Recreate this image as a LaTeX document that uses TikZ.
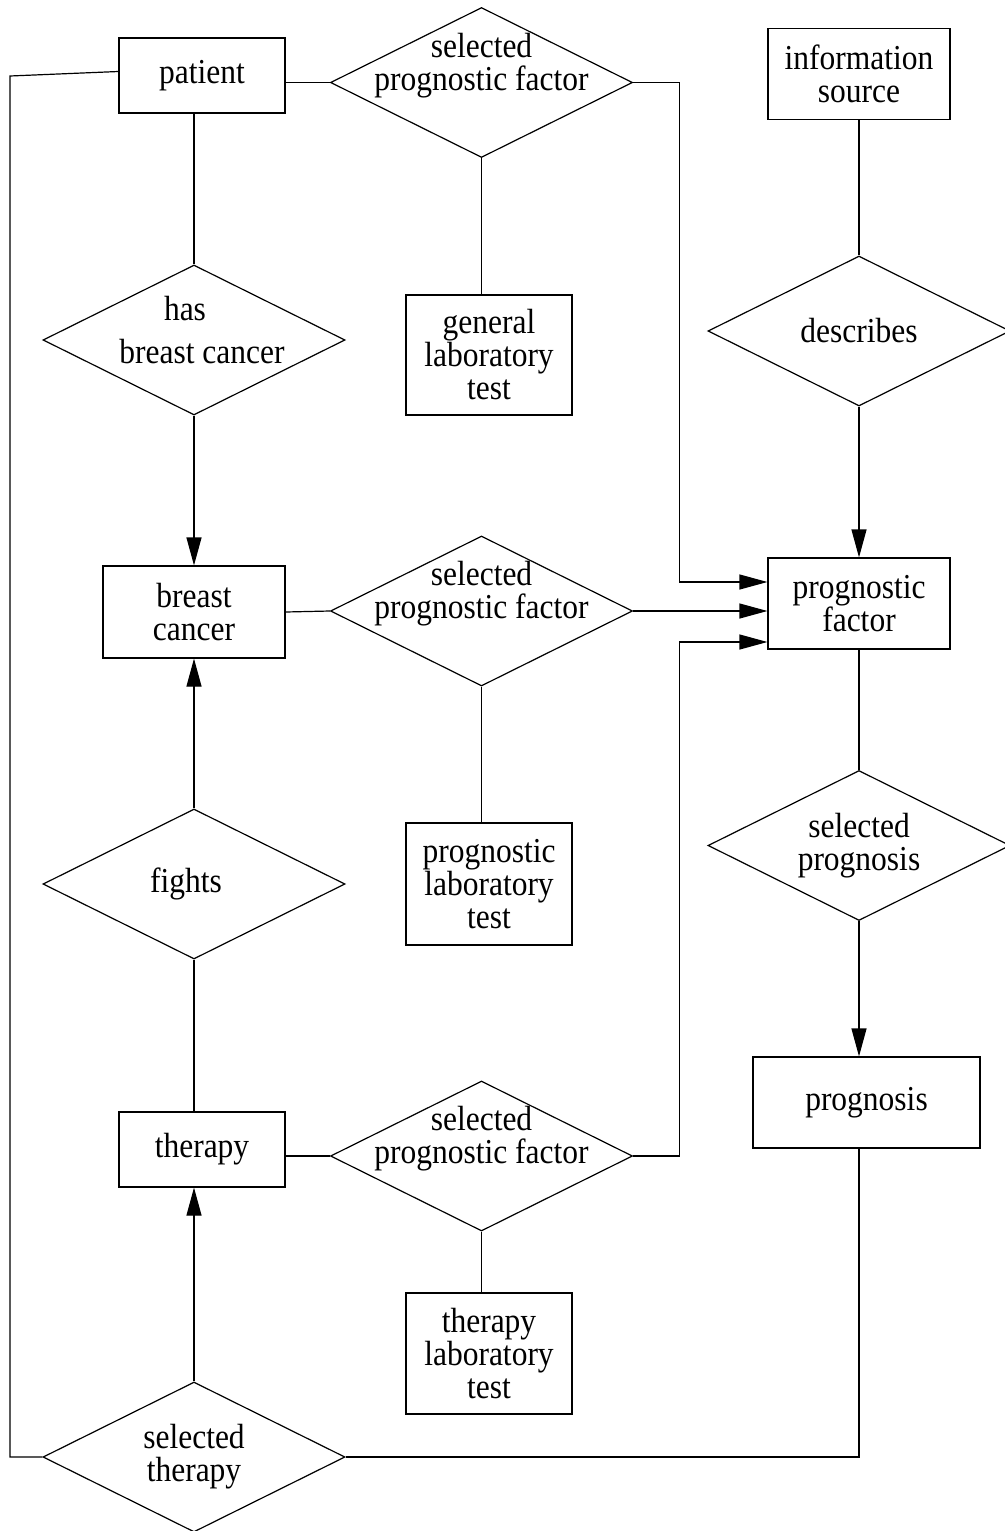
\documentclass[tikz,border=0pt]{standalone}
\usepackage{fontspec}
\setmainfont[FakeStretch=0.9]{Liberation Serif}
\usetikzlibrary{shapes.geometric,arrows.meta}

\begin{document}
\begin{tikzpicture}[x=0.5pt,y=-0.5pt,line width=0.6pt,
  font=\fontsize{17.5}{16.5}\selectfont,
  ent/.style={draw,rectangle,align=center,inner sep=0pt},
  rel/.style={draw,diamond,inner sep=0pt,minimum width=151pt,minimum height=75pt},
  reltext/.style={align=center,inner sep=0pt},
  arr/.style={-{Triangle[length=14pt,width=7.5pt]}}]

\useasboundingbox (0,0) rectangle (1005,1531);

% patient and its prognostic factor
\node[ent,minimum width=83pt,minimum height=37.5pt] (patient) at (202,75.5) {patient};
\node[rel,label={[reltext,yshift=8.5pt]center:selected\\prognostic factor}] (selpf1) at (481.5,82.5) {};
\node[ent,minimum width=83pt,minimum height=60pt] (genlab) at (489,355) {general\\laboratory\\test};
\node[rel,label={[reltext,xshift=4pt,yshift=5pt]center:has\hspace*{17pt}\\[5pt]breast cancer}] (has) at (194,340) {};

% information source
\node[ent,minimum width=91pt,minimum height=45.5pt] (infosrc) at (859,74) {information\\source};
\node[rel,label={[reltext]center:describes}] (describes) at (859,331) {};

% breast cancer
\node[ent,minimum width=91pt,minimum height=46pt] (bc) at (194,612) {breast\\cancer};
\node[rel,label={[reltext,yshift=8.5pt]center:selected\\prognostic factor}] (selpf2) at (481.5,611) {};
\node[ent,minimum width=83pt,minimum height=61pt] (proglab) at (489,884) {prognostic\\laboratory\\test};
\node[ent,minimum width=91pt,minimum height=45.5pt] (pf) at (859,603.5) {prognostic\\factor};
\node[rel,label={[reltext,xshift=-4pt]center:fights}] (fights) at (194,884) {};

% prognosis
\node[rel,label={[reltext]center:selected\\prognosis}] (selprog) at (859,845.5) {};
\node[ent,minimum width=113.5pt,minimum height=45.5pt] (prognosis) at (866.5,1102.5) {prognosis};

% therapy
\node[ent,minimum width=83pt,minimum height=37.5pt] (therapy) at (202,1149.5) {therapy};
\node[rel,label={[reltext,yshift=8.5pt]center:selected\\prognostic factor}] (selpf3) at (481.5,1156) {};
\node[ent,minimum width=83pt,minimum height=60.5pt] (therlab) at (489,1353.5) {therapy\\laboratory\\test};
\node[rel,label={[reltext]center:selected\\therapy}] (selther) at (194,1457) {};
\coordinate (loop) at (10,76);

% links
\draw (patient.east |- selpf1.west) -- (selpf1.west);
\draw (selpf1.south) -- (selpf1.south |- genlab.north);
\draw (has.north) -- (has.north |- patient.south);
\draw[arr] (has.south) -- (bc.north);
\draw (infosrc.south) -- (describes.north);
\draw[arr] (describes.south) -- (pf.north);
\draw (bc.east) -- (selpf2.west);
\draw (selpf2.south) -- (selpf2.south |- proglab.north);
\draw[arr] (fights.north) -- (bc.south);
\draw (fights.south) -- (fights.south |- therapy.north);
\draw (pf.south) -- (selprog.north);
\draw[arr] (selprog.south) -- (selprog.south |- prognosis.north);
\draw (selpf3.west -| therapy.east) -- (selpf3.west);
\draw (selpf3.south) -- (selpf3.south |- therlab.north);
\draw[arr] (selther.north) -- (selther.north |- therapy.south);

% into prognostic factor
\draw[arr] (selpf1.east) -- ++(46,0) |- ([yshift=10.75pt]pf.west);
\draw[arr] (selpf2.east) -- (selpf2.east -| pf.west);
\draw[arr] (selpf3.east) -- ++(46,0) |- ([yshift=-19.25pt]pf.west);

% loops round
\draw (pf.south |- prognosis.south) |- (selther.east);
\draw ([yshift=2pt]patient.west) -- (loop) -- (loop |- selther.west) -- (selther.west);

\end{tikzpicture}
\end{document}
